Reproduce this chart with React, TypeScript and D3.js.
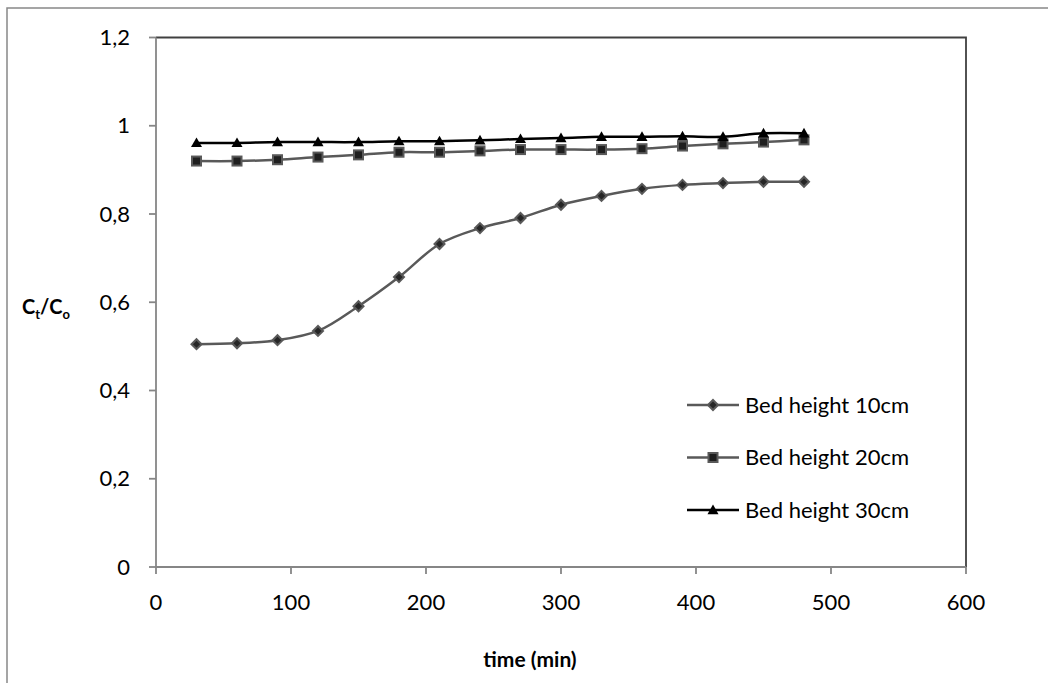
import React from 'react';
import * as d3 from 'd3';

// time points (min)
const times = [30, 60, 90, 120, 150, 180, 210, 240, 270, 300, 330, 360, 390, 420, 450, 480];

// Ct/Co for each bed height
const bed10 = [0.505, 0.507, 0.514, 0.535, 0.591, 0.657, 0.732, 0.768, 0.791, 0.821, 0.841, 0.857, 0.866, 0.870, 0.873, 0.873];
const bed20 = [0.920, 0.920, 0.923, 0.929, 0.934, 0.940, 0.940, 0.943, 0.946, 0.946, 0.946, 0.948, 0.954, 0.959, 0.963, 0.968];
const bed30 = [0.961, 0.961, 0.963, 0.963, 0.963, 0.965, 0.965, 0.967, 0.970, 0.972, 0.975, 0.975, 0.976, 0.975, 0.983, 0.983];

const seriesNames = ['Bed height 10cm', 'Bed height 20cm', 'Bed height 30cm'];
const xTicks = [0, 100, 200, 300, 400, 500, 600];
const yTicks = [0, 0.2, 0.4, 0.6, 0.8, 1, 1.2];

const W = 1048;
const H = 683;
const margin = { left: 156, right: 82, top: 37.5, bottom: 116 };
const FONT = 'Lato, "Open Sans", sans-serif';

type Marker = 'diamond' | 'square' | 'triangle';

const MarkerShape = ({ type, x, y }: { type: Marker; x: number; y: number }) => {
  if (type === 'diamond') {
    const s = 5;
    return (
      <path
        d={`M${x},${y - s}L${x + s},${y}L${x},${y + s}L${x - s},${y}Z`}
        fill="#262626"
        stroke="#595959"
        strokeWidth={2}
      />
    );
  }
  if (type === 'square') {
    const s = 4.5;
    return (
      <rect x={x - s} y={y - s} width={2 * s} height={2 * s} fill="#1f1f1f" stroke="#595959" strokeWidth={2} />
    );
  }
  const s = 5.5;
  return <path d={`M${x},${y - s}L${x + s},${y + s * 0.75}L${x - s},${y + s * 0.75}Z`} fill="#000" />;
};

const App = () => {
  const x = d3.scaleLinear().domain([0, 600]).range([margin.left, W - margin.right]);
  const y = d3.scaleLinear().domain([0, 1.2]).range([H - margin.bottom, margin.top]);

  const series = [
    { name: seriesNames[0], values: bed10, color: '#595959', marker: 'diamond' as Marker },
    { name: seriesNames[1], values: bed20, color: '#595959', marker: 'square' as Marker },
    { name: seriesNames[2], values: bed30, color: '#000000', marker: 'triangle' as Marker },
  ];

  const line = d3
    .line<number>()
    .x((_, i) => x(times[i]))
    .y((d) => y(d))
    .curve(d3.curveCatmullRom.alpha(0.5));

  const x0 = x(0);
  const x1 = x(600);
  const y0 = y(0);
  const y1 = y(1.2);
  const fmt = (v: number) => String(+v.toFixed(1)).replace('.', ',');

  const legendX = 687;
  const legendY = 405;
  const legendStep = 52.5;

  return (
    <svg
      width={W}
      height={H}
      style={{ position: 'absolute', left: 0, top: 0, background: '#fff' }}
      fontFamily={FONT}
    >
      {/* chart border */}
      <rect x={7} y={8} width={W} height={H} fill="none" stroke="#888" strokeWidth={1.5} />

      {/* plot area top/right border */}
      <path d={`M${x0},${y1}H${x1}V${y0}`} fill="none" stroke="#404040" strokeWidth={1.8} />

      {/* y axis */}
      <line x1={x0} x2={x0} y1={y1} y2={y0} stroke="#868686" strokeWidth={1.8} />
      {yTicks.map((t) => (
        <g key={t}>
          <line x1={x0 - 7} x2={x0} y1={y(t)} y2={y(t)} stroke="#868686" strokeWidth={1.8} />
          <text x={130} y={y(t)} dy="0.35em" textAnchor="end" fontSize={22} fill="#000">
            {fmt(t)}
          </text>
        </g>
      ))}

      {/* x axis */}
      <line x1={x0} x2={x1} y1={y0} y2={y0} stroke="#868686" strokeWidth={1.8} />
      {xTicks.map((t) => (
        <g key={t}>
          <line x1={x(t)} x2={x(t)} y1={y0} y2={y0 + 7} stroke="#868686" strokeWidth={1.8} />
          <text x={x(t)} y={602} dy="0.35em" textAnchor="middle" fontSize={22} fill="#000">
            {t}
          </text>
        </g>
      ))}

      {/* axis titles */}
      <text x={530} y={660} dy="0.35em" textAnchor="middle" fontSize={21} fontWeight="bold">
        time (min)
      </text>
      <text x={22} y={307} dy="0.35em" fontSize={20} fontWeight="bold">
        C<tspan fontSize={13} dy={5}>t</tspan>
        <tspan dy={-5}>/C</tspan>
        <tspan fontSize={13} dy={5}>o</tspan>
      </text>

      {/* series */}
      {series.map((s) => (
        <g key={s.name}>
          <path d={line(s.values) || ''} fill="none" stroke={s.color} strokeWidth={2.5} />
          {s.values.map((v, i) => (
            <MarkerShape key={i} type={s.marker} x={x(times[i])} y={y(v)} />
          ))}
        </g>
      ))}

      {/* legend */}
      {series.map((s, i) => {
        const ly = legendY + i * legendStep;
        return (
          <g key={s.name}>
            <line x1={legendX} x2={legendX + 52} y1={ly} y2={ly} stroke={s.color} strokeWidth={2.5} />
            <MarkerShape type={s.marker} x={legendX + 26} y={ly} />
            <text x={745} y={ly} dy="0.35em" fontSize={22} fill="#000">
              {s.name}
            </text>
          </g>
        );
      })}
    </svg>
  );
};

export default App;
